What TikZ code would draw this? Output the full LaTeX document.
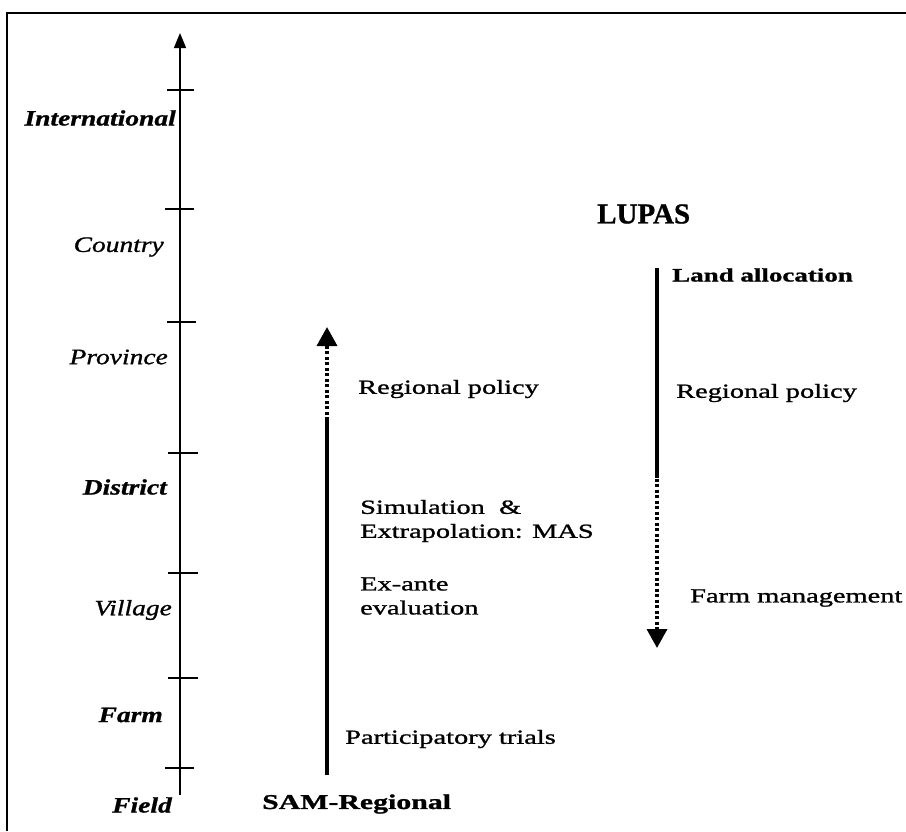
\documentclass[tikz,border=0pt]{standalone}
\usepackage{fontspec}
\setmainfont{Liberation Serif}
\newfontfamily\widefont[FakeStretch=1.42,FakeBold=1.2]{Liberation Serif}
\newfontfamily\axisfont[FakeStretch=1.25,FakeBold=1.0]{Liberation Serif}
\newfontfamily\titlefont[FakeBold=0.8]{Liberation Serif}
\usetikzlibrary{arrows.meta}
\tikzset{
  frame/.style={line width=2pt},
  axisline/.style={line width=1.5pt},
  tickline/.style={line width=1.5pt},
  scaletxt/.style={inner sep=0pt, font=\axisfont\fontsize{22}{24}\selectfont\itshape},
  scalebold/.style={scaletxt, font=\axisfont\fontsize{22}{24}\selectfont\bfseries\itshape},
  bodytxt/.style={inner sep=0pt, anchor=west, align=left, font=\widefont\fontsize{20}{24}\selectfont},
  bodybold/.style={bodytxt, font=\widefont\fontsize{20}{24}\selectfont\bfseries},
  flowline/.style={line width=3.5pt},
  flowdot/.style={line width=3.5pt, dash pattern=on 3pt off 2.5pt},
  bigtip/.style={-{Triangle[width=20pt,length=19pt]}},
}
\begin{document}
\begin{tikzpicture}[x=1pt,y=-1pt]
\useasboundingbox (0,0) rectangle (906,831);
% frame
\draw[frame] (7,831) -- (7,12.5) -- (906,12.5);
% axis
\coordinate (axbot) at (180,795);
\coordinate (axtop) at (180,33);
\draw[axisline,-{Triangle[width=12pt,length=15pt]}] (axbot) -- (axtop);
\foreach \y/\a/\b in {90/167/194, 209/165/194, 322/167/196, 453/168/198, 573/168/198, 678/168/198, 768/165/194}{
  \draw[tickline] (\a,\y) -- (\b,\y);
}
% axis labels
\node[scalebold, anchor=east] (lint) at (176,118) {International};
\node[scaletxt, anchor=east] (lcou) at (164,247) {Country};
\node[scaletxt, anchor=east] (lpro) at (168,357) {Province};
\node[scalebold, anchor=east] (ldis) at (167,487) {District};
\node[scaletxt, anchor=east] (lvil) at (172,610) {Village};
\node[scalebold, anchor=east] (lfar) at (163,715) {Farm};
\node[scalebold, anchor=east] (lfie) at (172,805) {Field};
% SAM-Regional arrow
\coordinate (s0) at (327,775);
\coordinate (s1) at (327,420);
\coordinate (s2) at (327,327);
\draw[flowline] (s0) -- (s1);
\draw[flowdot,bigtip] (s1) -- (s2);
\node[bodybold, font=\widefont\fontsize{21}{24}\selectfont\bfseries] (sam) at (262,804) {SAM-Regional};
\node[bodytxt] (sreg) at (358,389) {Regional policy};
\node[bodytxt] (ssim) at (360,521) {Simulation\ \ \&\\Extrapolation: MAS};
\node[bodytxt] (sex) at (360,596) {Ex-ante\\evaluation};
\node[bodytxt] (spar) at (345,739) {Participatory trials};
% LUPAS arrow
\coordinate (l0) at (657,268);
\coordinate (l1) at (657,478);
\coordinate (l2) at (657,648);
\draw[flowline] (l0) -- (l1);
\draw[flowdot,bigtip] ([yshift=5pt]l1) -- (l2);
\node[inner sep=0pt, anchor=west, font=\titlefont\fontsize{29}{30}\selectfont\bfseries] (lupas) at (597,214) {LUPAS};
\node[bodybold, font=\widefont\fontsize{19}{24}\selectfont\bfseries] (lland) at (672,275) {Land allocation};
\node[bodytxt] (lreg) at (676,393) {Regional policy};
\node[bodytxt] (lfm) at (690,598) {Farm management};
\end{tikzpicture}
\end{document}
